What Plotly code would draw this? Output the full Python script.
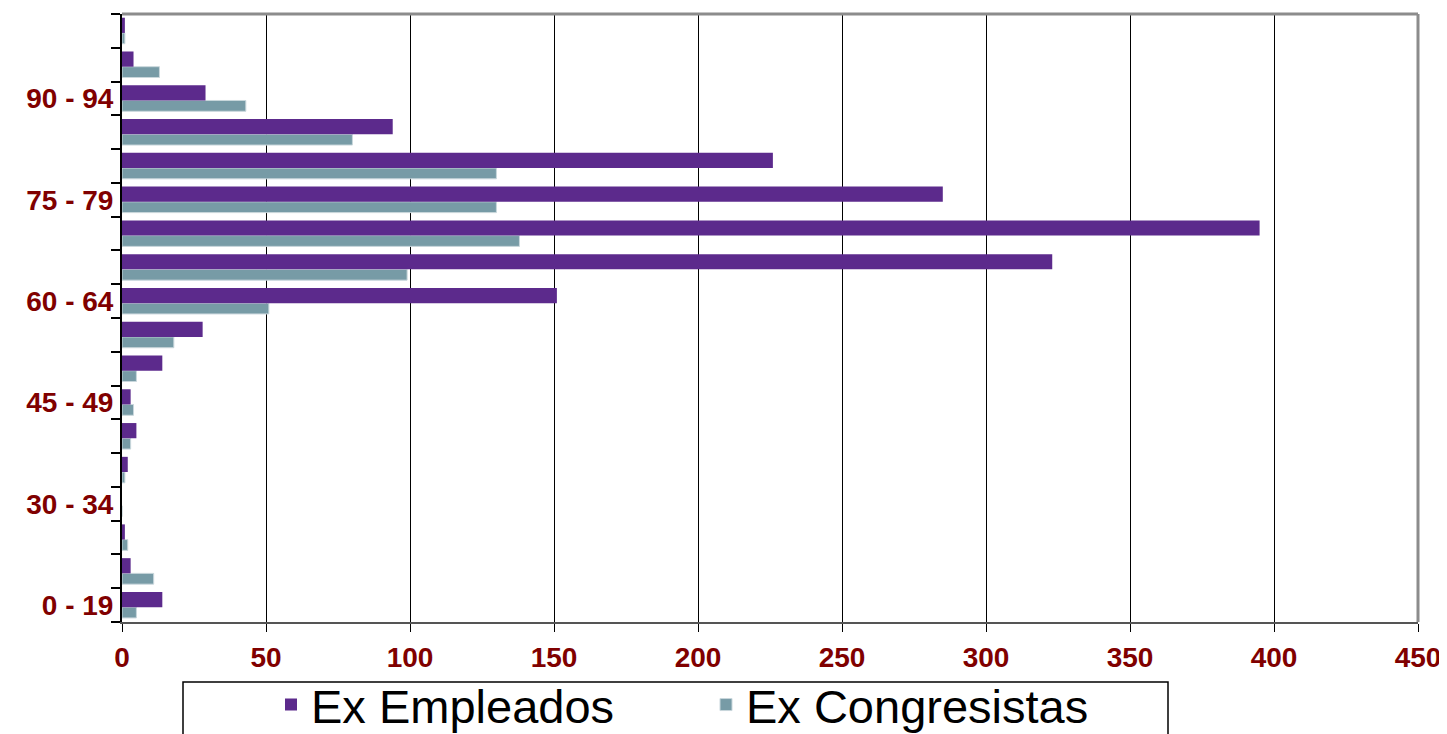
import plotly.graph_objects as go

# age groups, bottom to top
age_groups = ["0 - 19", "20 - 24", "25 - 29", "30 - 34", "35 - 39", "40 - 44",
              "45 - 49", "50 - 54", "55 - 59", "60 - 64", "65 - 69", "70 - 74",
              "75 - 79", "80 - 84", "85 - 89", "90 - 94", "95 - 99", "100 +"]
ex_empleados = [14, 3, 1, 0, 2, 5, 3, 14, 28, 151, 323, 395, 285, 226, 94, 29, 4, 1]
ex_congresistas = [5, 11, 2, 0, 1, 3, 4, 5, 18, 51, 99, 138, 130, 130, 80, 43, 13, 1]
shown_labels = ["0 - 19", "30 - 34", "45 - 49", "60 - 64", "75 - 79", "90 - 94"]

pos = list(range(len(age_groups)))
label_pos = [age_groups.index(a) for a in shown_labels]

RED = "#800000"
FONT = "Liberation Sans, Arial, sans-serif"

# the page body has an 8px margin, so the figure is shifted by 8px
W, H = 1439, 726
L, R, T, B = 114, 29, 6, 112
PW, PH = W - L - R, H - T - B


def px_x(x):  # page x -> paper x
    return (x - 8 - L) / PW


def px_y(y):  # page y -> paper y
    return (H - B - (y - 8)) / PH


fig = go.Figure()

# congresistas drawn first (lower bar), empleados on top
fig.add_trace(go.Bar(
    y=pos, x=ex_congresistas, orientation="h", name="Ex Congresistas",
    offset=-0.38, width=0.32,
    marker=dict(color="#779BA6", line=dict(color="#C9D7DC", width=1)),
    legendrank=2,
))
fig.add_trace(go.Bar(
    y=pos, x=ex_empleados, orientation="h", name="Ex Empleados",
    offset=-0.06, width=0.45,
    marker=dict(color="#5C2A8C", line=dict(width=0)),
    legendrank=1,
))

fig.update_layout(
    width=W, height=H,
    margin=dict(l=L, r=R, t=T, b=B, autoexpand=False),
    paper_bgcolor="white", plot_bgcolor="white",
    barmode="overlay",
    font=dict(family=FONT),
    showlegend=True,
    legend=dict(
        orientation="h", x=px_x(271), xanchor="left",
        y=px_y(705), yanchor="middle",
        entrywidth=390, font=dict(size=47, color="black", family=FONT),
        bgcolor="rgba(0,0,0,0)", borderwidth=0,
    ),
    shapes=[
        # legend frame
        dict(type="rect", xref="paper", yref="paper",
             x0=px_x(183), x1=px_x(1168), y0=px_y(682), y1=px_y(760),
             line=dict(color="black", width=1.5)),
        # gray top / right frame
        dict(type="line", xref="paper", yref="paper", x0=0, x1=1, y0=1, y1=1,
             line=dict(color="#8C8C8C", width=3)),
        dict(type="line", xref="paper", yref="paper", x0=1, x1=1, y0=0, y1=1,
             line=dict(color="#8C8C8C", width=3)),
    ],
)

fig.update_xaxes(
    range=[0, 450], dtick=50, tick0=0, automargin=False,
    showgrid=True, gridcolor="black", gridwidth=1, zeroline=False,
    showline=True, linecolor="#555555", linewidth=2,
    ticks="outside", ticklen=8, tickcolor="black", tickwidth=1,
    ticklabelstandoff=1,
    tickfont=dict(size=28, color=RED, family=FONT, weight="bold"),
)
fig.update_yaxes(
    range=[-0.5, len(age_groups) - 0.5], automargin=False,
    tickmode="array", tickvals=label_pos, ticktext=shown_labels,
    ticks="outside", ticklen=0, tickcolor="black", ticklabelstandoff=1,
    minor=dict(tickmode="linear", tick0=0.5, dtick=1, ticks="outside",
               ticklen=9, tickcolor="black", tickwidth=2, showgrid=False),
    showgrid=False, zeroline=False,
    showline=True, linecolor="black", linewidth=2,
    tickfont=dict(size=28, color=RED, family=FONT, weight="bold"),
)

fig.write_html("out.html")
